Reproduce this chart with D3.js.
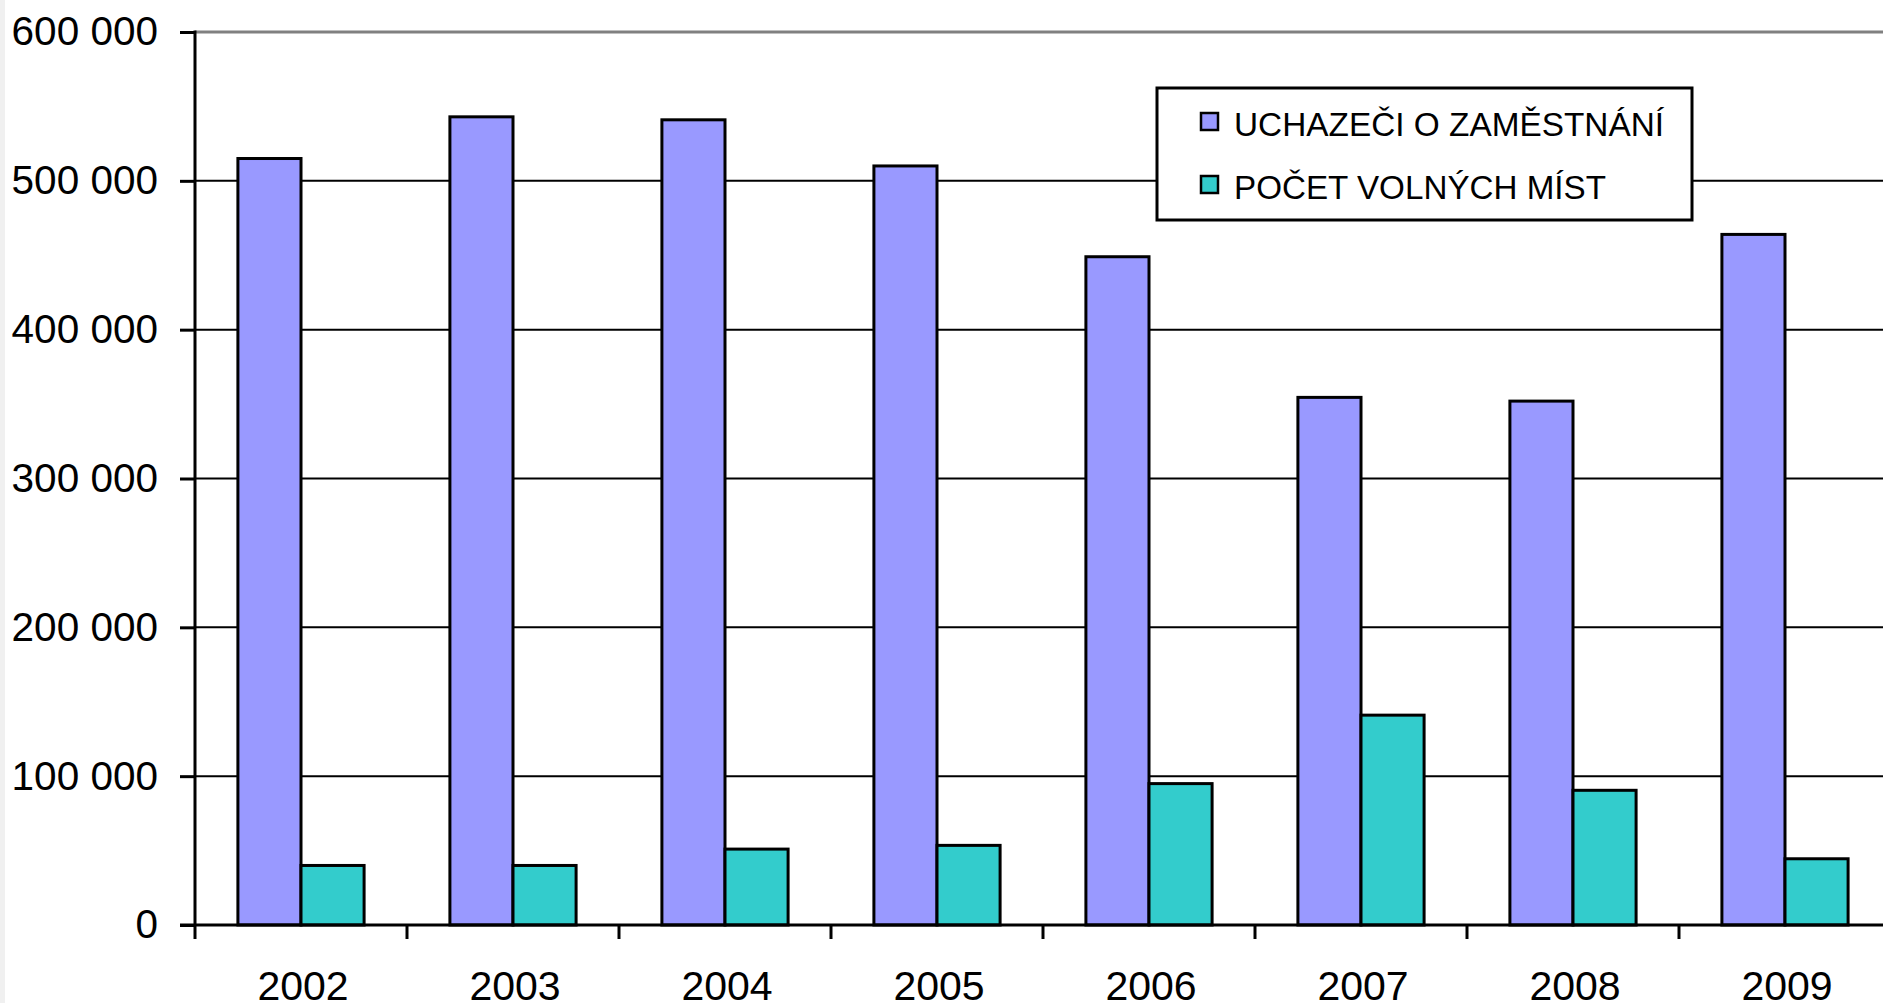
<!DOCTYPE html>
<html>
<head>
<meta charset="utf-8">
<script src="https://cdn.jsdelivr.net/npm/d3@7"></script>
<style>
  html, body { margin: 0; padding: 0; background: #fff; }
  svg { display: block; font-family: "Liberation Sans", Arial, sans-serif; }
</style>
</head>
<body>
<script>
var years = ["2002", "2003", "2004", "2005", "2006", "2007", "2008", "2009"];
var applicants = [515000, 543000, 541000, 510000, 449000, 354500, 352000, 464000];
var vacancies = [40000, 40000, 51000, 53500, 95000, 141000, 90500, 44500];
var seriesNames = ["UCHAZEČI O ZAMĚSTNÁNÍ", "POČET VOLNÝCH MÍST"];
var seriesColors = ["#9999ff", "#33cccc"];
var yTicks = [0, 100000, 200000, 300000, 400000, 500000, 600000];

var width = 1883;
var height = 1003;
var plotLeft = 195;
var plotRight = 1891;
var plotTop = 32;
var plotBottom = 925;

var svg = d3.select("body").append("svg")
  .attr("width", width)
  .attr("height", height);

// light strip at the left edge
svg.append("rect").attr("x", 0).attr("y", 0).attr("width", 5).attr("height", height).attr("fill", "#f0f0f0");

var xScale = d3.scaleBand()
  .domain(years)
  .range([plotLeft, plotRight])
  .padding(0);

var xInner = d3.scaleBand()
  .domain([0, 1])
  .range([0, xScale.bandwidth()])
  .paddingInner(0)
  .paddingOuter(0.68);

var yScale = d3.scaleLinear()
  .domain([0, 600000])
  .range([plotBottom, plotTop]);

var locale = d3.formatLocale({ decimal: ",", thousands: " ", grouping: [3], currency: ["", ""] });
var fmt = locale.format(",d");

// gridlines
svg.append("g").selectAll("line")
  .data(yTicks.filter(d => d > 0))
  .enter().append("line")
  .attr("x1", plotLeft)
  .attr("x2", width)
  .attr("y1", d => yScale(d))
  .attr("y2", d => yScale(d))
  .attr("stroke", d => d === 600000 ? "#808080" : "#000")
  .attr("stroke-width", d => d === 600000 ? 3 : 2);

// bars
var groups = svg.append("g").selectAll("g")
  .data(years)
  .enter().append("g")
  .attr("transform", d => "translate(" + xScale(d) + ",0)");

groups.selectAll("rect")
  .data((d, i) => [applicants[i], vacancies[i]])
  .enter().append("rect")
  .attr("x", (d, j) => xInner(j))
  .attr("y", d => yScale(d))
  .attr("width", xInner.bandwidth())
  .attr("height", d => plotBottom - yScale(d))
  .attr("fill", (d, j) => seriesColors[j])
  .attr("stroke", "#000")
  .attr("stroke-width", 3);

// y axis
var yAxis = d3.axisLeft(yScale)
  .tickValues(yTicks)
  .tickSize(15)
  .tickPadding(22)
  .tickFormat(d => fmt(d));

var yg = svg.append("g")
  .attr("transform", "translate(" + plotLeft + ",0)")
  .call(yAxis);
yg.select(".domain").remove();
yg.selectAll(".tick line").attr("stroke", "#000").attr("stroke-width", 3);
yg.selectAll("text").attr("font-size", 40.5).attr("fill", "#000")
  .attr("font-family", "'Liberation Sans', Arial, sans-serif");
yg.append("line")
  .attr("x1", 0).attr("x2", 0)
  .attr("y1", plotTop - 1.5).attr("y2", plotBottom + 14)
  .attr("stroke", "#000").attr("stroke-width", 3);

// x axis
var xg = svg.append("g")
  .attr("transform", "translate(0," + plotBottom + ")");
xg.append("line")
  .attr("x1", plotLeft - 15).attr("x2", width)
  .attr("y1", 0).attr("y2", 0)
  .attr("stroke", "#000").attr("stroke-width", 3);
xg.selectAll(".xtick")
  .data(years.slice(1).concat(["end"]))
  .enter().append("line")
  .attr("class", "xtick")
  .attr("x1", (d, i) => xScale.range()[0] + (i + 1) * xScale.step())
  .attr("x2", (d, i) => xScale.range()[0] + (i + 1) * xScale.step())
  .attr("y1", 0).attr("y2", 14)
  .attr("stroke", "#000").attr("stroke-width", 3);
xg.selectAll(".xlabel")
  .data(years)
  .enter().append("text")
  .attr("class", "xlabel")
  .attr("x", d => xScale(d) + xScale.bandwidth() / 2 + 2)
  .attr("y", 75)
  .attr("text-anchor", "middle")
  .attr("font-size", 41)
  .attr("fill", "#000")
  .text(d => d);

// legend
var legend = svg.append("g");
legend.append("rect")
  .attr("x", 1157).attr("y", 88)
  .attr("width", 535).attr("height", 132)
  .attr("fill", "#fff").attr("stroke", "#000").attr("stroke-width", 3);

var legendWidths = [430, 372];
seriesNames.forEach(function (name, i) {
  legend.append("rect")
    .attr("x", 1201).attr("y", 113 + i * 63)
    .attr("width", 17).attr("height", 17)
    .attr("fill", seriesColors[i])
    .attr("stroke", "#000").attr("stroke-width", 2.5);
  legend.append("text")
    .attr("x", 1234).attr("y", 136 + i * 63)
    .attr("font-size", 33)
    .attr("textLength", legendWidths[i])
    .attr("lengthAdjust", "spacingAndGlyphs")
    .attr("fill", "#000")
    .text(name);
});
</script>
</body>
</html>
